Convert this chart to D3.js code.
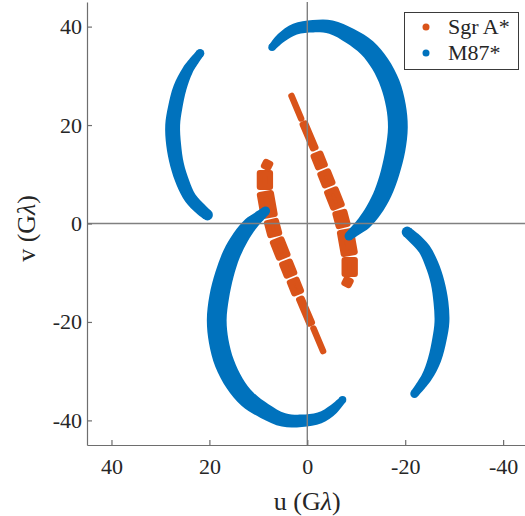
<!DOCTYPE html>
<html>
<head>
<meta charset="utf-8">
<script src="https://cdn.jsdelivr.net/npm/d3@7"></script>
<style>
  body { margin: 0; background: #fff; }
  svg { display: block; }
  text { font-family: "Liberation Serif", "DejaVu Serif", serif; fill: #262626; }
</style>
</head>
<body>
<svg id="chart" width="525" height="516"></svg>
<script>
// uv coverage, in Gλ. Each track is listed once; its conjugate (-u, -v) is plotted as well.
// "spread" is the width of the band of samples across the track (Gλ).

// M87*: long arc over the top and down the right side
const m87ArcU      = [7.2, 5.37, 2.51, -1.16, -4.84, -8.72, -12.2, -14.85, -16.9, -18.1, -18.5, -18.0, -16.9, -15.46, -13.6, -11.58, -9.95, -8.52];
const m87ArcV      = [35.8, 37.7, 39.5, 40.08, 39.9, 38.1, 35.7, 32.45, 28.4, 23.9, 19.6, 14.95, 10.3, 6.2, 2.75, 0.1, -1.32, -2.54];
const m87ArcSpread = [0.3, 0.8, 1.1, 1.3, 1.6, 2.0, 2.4, 2.6, 2.8, 2.8, 2.8, 2.8, 2.6, 2.4, 2.1, 1.7, 1.1, 0.6];

// M87*: shorter arc on the left
const m87SideU      = [21.9, 24.4, 26.0, 27.0, 27.5, 27.3, 26.6, 25.4, 23.9, 21.8, 20.4];
const m87SideV      = [34.6, 31.2, 27.6, 23.5, 20.0, 16.0, 11.9, 8.24, 5.19, 2.95, 1.73];
const m87SideSpread = [0.5, 1.0, 1.5, 1.7, 1.8, 1.8, 1.6, 1.5, 1.3, 1.2, 1.0];

// Sgr A*: one track split into scans (start and end of each scan)
const sgrScanU0     = [3.23, 0.69, -1.98, -3.45, -4.93, -6.66, -7.80, -8.66, -8.42];
const sgrScanV0     = [25.94, 20.24, 13.93, 10.27, 6.61, 2.13, -1.73, -7.43, -11.50];
const sgrScanU1     = [1.25, -1.41, -2.88, -4.35, -6.15, -7.31, -8.56, -8.66, -8.01];
const sgrScanV1     = [21.30, 15.36, 11.70, 8.04, 3.56, -0.30, -6.00, -10.27, -12.31];
const sgrScanSpread = [0.1, 0.6, 1.5, 1.7, 1.9, 1.9, 2.3, 2.1, 1.0];

const axisTicks    = [-40, -20, 0, 20, 40];
const seriesNames  = ["Sgr A*", "M87*"];
const seriesColors = ["#D95319", "#0072BD"];

const svg = d3.select("#chart");
const x = d3.scaleLinear().domain([45, -45]).range([87, 527.6]);
const y = d3.scaleLinear().domain([-45, 45]).range([445, 2]);
const markerSize = 6; // marker diameter, px
const spreadPx = s => Math.abs(y(s) - y(0));

const plot = svg.append("g");

// Sgr A* scans: rounded blocks of samples
function drawScans(sign) {
  const g = plot.append("g");
  sgrScanU0.forEach((_, i) => {
    const p0 = [x(sign * sgrScanU0[i]), y(sign * sgrScanV0[i])];
    const p1 = [x(sign * sgrScanU1[i]), y(sign * sgrScanV1[i])];
    const dx = p1[0] - p0[0], dy = p1[1] - p0[1];
    const len = Math.hypot(dx, dy) || 1;
    const nx = -dy / len, ny = dx / len;
    const h = spreadPx(sgrScanSpread[i]) / 2;
    const pts = [
      [p0[0] + nx * h, p0[1] + ny * h],
      [p1[0] + nx * h, p1[1] + ny * h],
      [p1[0] - nx * h, p1[1] - ny * h],
      [p0[0] - nx * h, p0[1] - ny * h]
    ];
    g.append("path")
      .attr("d", "M" + pts.map(p => p.join(",")).join("L") + "Z")
      .attr("fill", seriesColors[0])
      .attr("stroke", seriesColors[0])
      .attr("stroke-width", markerSize)
      .attr("stroke-linejoin", "round")
      .attr("stroke-linecap", "round");
  });
}

// M87* bands: smooth ribbon through the track with its sample spread
function drawBand(us, vs, spreads, sign) {
  const P = us.map((u, i) => [x(sign * u), y(sign * vs[i])]);
  const H = spreads.map(s => (spreadPx(s) + markerSize) / 2);
  const left = [], right = [];
  P.forEach((p, i) => {
    const a = P[Math.max(0, i - 1)], b = P[Math.min(P.length - 1, i + 1)];
    const dx = b[0] - a[0], dy = b[1] - a[1];
    const len = Math.hypot(dx, dy) || 1;
    const nx = -dy / len, ny = dx / len;
    left.push([p[0] + nx * H[i], p[1] + ny * H[i]]);
    right.push([p[0] - nx * H[i], p[1] - ny * H[i]]);
  });
  const line = d3.line().curve(d3.curveCatmullRom.alpha(0.5));
  const d = line(left) + "L" + line(right.slice().reverse()).slice(1) + "Z";
  const g = plot.append("g").attr("fill", seriesColors[1]);
  g.append("path").attr("d", d);
  g.append("circle").attr("cx", P[0][0]).attr("cy", P[0][1]).attr("r", H[0]);
  g.append("circle").attr("cx", P[P.length - 1][0]).attr("cy", P[P.length - 1][1]).attr("r", H[H.length - 1]);
}

[1, -1].forEach(s => drawScans(s));
[1, -1].forEach(s => {
  drawBand(m87ArcU, m87ArcV, m87ArcSpread, s);
  drawBand(m87SideU, m87SideV, m87SideSpread, s);
});

// zero lines
const zero = svg.append("g").attr("stroke", "#808080").attr("stroke-width", 1.4);
zero.append("line").attr("x1", x(0)).attr("x2", x(0)).attr("y1", y(45)).attr("y2", y(-45));
zero.append("line").attr("x1", x(45)).attr("x2", x(-45)).attr("y1", y(0)).attr("y2", y(0));

// axes
const fmt = d => String(d);
const yAxis = svg.append("g").attr("transform", `translate(${x(45)},0)`)
  .call(d3.axisLeft(y).tickValues(axisTicks).tickFormat(fmt).tickSize(-5).tickSizeOuter(0).tickPadding(5));
const xAxis = svg.append("g").attr("transform", `translate(0,${y(-45)})`)
  .call(d3.axisBottom(x).tickValues(axisTicks).tickFormat(fmt).tickSize(-5).tickSizeOuter(0).tickPadding(13));
[xAxis, yAxis].forEach(a => {
  a.select(".domain").attr("stroke", "#6e6e6e").attr("stroke-width", 1.2);
  a.selectAll(".tick line").attr("stroke", "#6e6e6e").attr("stroke-width", 1.2);
  a.selectAll(".tick text").attr("fill", "#262626").style("font-size", "22px")
    .style("font-family", '"Liberation Serif", "DejaVu Serif", serif');
});

// axis labels
const xl = svg.append("text").attr("x", x(0)).attr("y", 510).attr("text-anchor", "middle")
  .style("font-size", "26px");
xl.append("tspan").text("u (G");
xl.append("tspan").style("font-style", "italic").text("λ");
xl.append("tspan").text(")");

const yl = svg.append("text").attr("transform", `translate(35,${y(-1)}) rotate(-90)`)
  .attr("text-anchor", "middle").style("font-size", "26px");
yl.append("tspan").text("v (G");
yl.append("tspan").style("font-style", "italic").text("λ");
yl.append("tspan").text(")");

// legend
const lg = svg.append("g");
lg.append("rect").attr("x", 404.5).attr("y", 12.5).attr("width", 114).attr("height", 57)
  .attr("fill", "#fff").attr("stroke", "#3a3a3a").attr("stroke-width", 1);
seriesNames.forEach((name, i) => {
  const cy = 27 + i * 26;
  lg.append("circle").attr("cx", 426).attr("cy", cy).attr("r", 3.5).attr("fill", seriesColors[i]);
  lg.append("text").attr("x", 448).attr("y", cy).attr("dy", "0.33em")
    .style("font-size", "22px").text(name);
});
</script>
</body>
</html>
